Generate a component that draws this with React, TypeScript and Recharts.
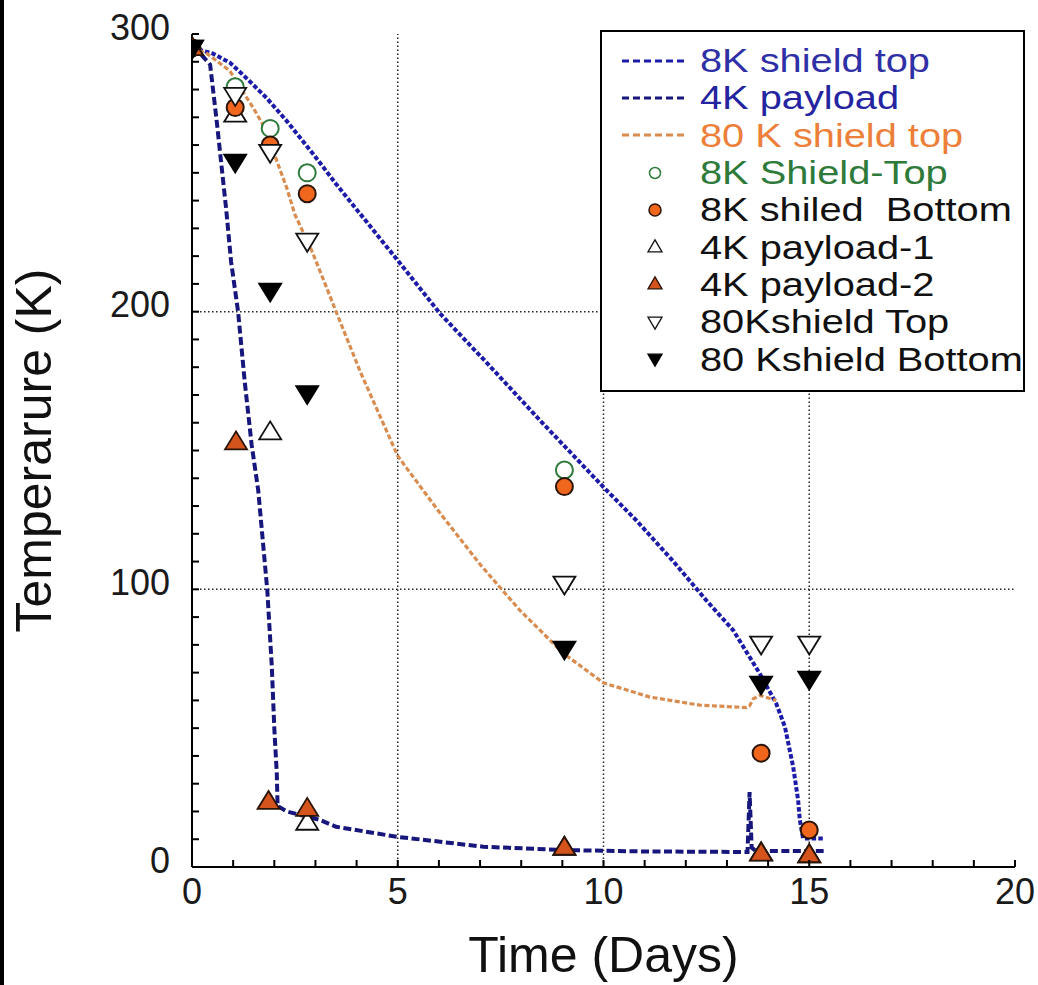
import { ScatterChart, Scatter, XAxis, YAxis, ReferenceLine, Legend } from 'recharts';

type Pt = { t: number; temp: number };
const toPts = (rows: number[][]): Pt[] => rows.map(([t, temp]) => ({ t, temp }));

// model curves (time in days, temperature in K)
const shield8kTopCurve = toPts([
  [0, 295], [0.5, 293], [0.92, 289.7], [1.33, 284], [1.81, 277], [2.3, 268.7], [2.95, 256.7],
  [3.5, 246], [4.97, 219], [6.03, 199.3], [7.2, 181], [8.46, 160.8], [10, 136.8], [10.8, 124.8],
  [11.7, 110], [12.5, 96], [13.15, 85.3], [13.8, 69.6], [14.2, 58.8], [14.41, 50.4], [14.61, 36],
  [14.73, 24], [14.77, 17], [14.85, 10.3], [15.34, 10.3],
]);
const payload4kCurve = toPts([
  [0, 295], [0.2, 293], [0.44, 289], [0.6, 268.7], [0.75, 248], [0.83, 237], [0.95, 218],
  [1.12, 200], [1.28, 175], [1.45, 152], [1.61, 135.6], [1.83, 99.6], [1.94, 72], [2.0, 50],
  [2.06, 33.8], [2.08, 22], [2.3, 20], [3.1, 17], [3.5, 14.5], [4.97, 10.9], [7.08, 7.3],
  [9.02, 6.1], [11, 5.6], [13.5, 5.4], [13.55, 27], [13.6, 7], [13.7, 5.8], [15.35, 5.8],
]);
const shield80kTopCurve = toPts([
  [0, 295], [0.36, 293], [0.92, 286.7], [1.17, 280.7], [1.49, 273.4], [1.81, 265], [2.06, 254.3],
  [2.3, 244.7], [2.5, 235], [2.91, 222], [3.27, 208.7], [3.51, 199.7], [4.1, 178], [5, 148],
  [6, 128], [7, 109], [7.97, 92.4], [9.02, 77], [10.0, 66.3], [11.13, 61.2], [12.34, 58.3],
  [13.48, 57.4], [13.55, 58], [13.64, 60.6], [13.8, 61.8], [14.2, 60],
]);

// measured points
const shield8kTopMeas = toPts([[0, 295], [1.05, 281], [1.9, 266], [2.8, 250], [9.05, 143]]);
const shield8kBottomMeas = toPts([[0, 295], [1.05, 273.5], [1.9, 260], [2.8, 242.5], [9.05, 137], [13.83, 41], [15, 13.3]]);
const payload4k1Meas = toPts([[0, 295], [1.05, 271], [1.9, 156.6], [2.8, 16], [9.05, 7], [13.83, 5], [15, 4.3]]);
const payload4k2Meas = toPts([[0, 295], [1.07, 153], [1.86, 23.5], [2.8, 21], [9.05, 7], [13.83, 4.9], [15, 4.3]]);
const shield80kTopMeas = toPts([[0, 295], [1.05, 278], [1.9, 257.5], [2.8, 225.5], [9.05, 102], [13.83, 80.4], [15, 80.4]]);
const shield80kBottomMeas = toPts([[0, 295], [1.05, 254], [1.9, 207.5], [2.8, 170.6], [9.05, 78.6], [13.83, 66], [15, 67.8]]);

const xTicks = Array.from({ length: 21 }, (_, i) => i);
const yTicks = Array.from({ length: 31 }, (_, i) => i * 10);
const xGrid = [5, 10, 15];
const yGrid = [100, 200];

const FONT = '"Liberation Sans", Arial, Helvetica, sans-serif';
const C_8K = '#1c1ca8';
const C_4K = '#16167c';
const C_80K = '#d98c4f';
const C_GREEN = '#2e7a3a';
const C_ORANGE = '#ef661c';
const C_RED = '#d4541c';
const C_EDGE = '#2a1405';

const triUp = (cx: number, cy: number, h: number, w: number) =>
  `${cx},${cy - h * 0.6} ${cx - w},${cy + h * 0.4} ${cx + w},${cy + h * 0.4}`;
const triDown = (cx: number, cy: number, h: number, w: number) =>
  `${cx},${cy + h * 0.6} ${cx - w},${cy - h * 0.4} ${cx + w},${cy - h * 0.4}`;

const OpenCircle = (p: any) => <circle cx={p.cx} cy={p.cy} r={8.5} fill="#fff" stroke={C_GREEN} strokeWidth={2} />;
const FilledCircle = (p: any) => <circle cx={p.cx} cy={p.cy} r={8.5} fill={C_ORANGE} stroke={C_EDGE} strokeWidth={2} />;
const OpenUp = (p: any) => <polygon points={triUp(p.cx, p.cy, 18, 11)} fill="#fff" stroke="#111" strokeWidth={1.8} />;
const FilledUp = (p: any) => <polygon points={triUp(p.cx, p.cy, 18, 11)} fill={C_RED} stroke={C_EDGE} strokeWidth={1.8} />;
const OpenDown = (p: any) => <polygon points={triDown(p.cx, p.cy, 18, 11)} fill="#fff" stroke="#111" strokeWidth={1.8} />;
const FilledDown = (p: any) => <polygon points={triDown(p.cx, p.cy, 18, 11)} fill="#000" stroke="#000" strokeWidth={1.8} />;
const NoDot = () => <g />;

const XTick = (props: any) => {
  const { x, y, payload, top } = props;
  const v = payload.value;
  return (
    <g>
      <line x1={x} x2={x} y1={y} y2={top ? y + 7 : y - 7} stroke="#000" strokeWidth={2} />
      {!top && v % 5 === 0 && (
        <text x={x} y={y + 24} textAnchor="middle" dominantBaseline="central" fontSize={36} fill="#1a1a1a" fontFamily={FONT}>
          {v}
        </text>
      )}
    </g>
  );
};

const YTick = (props: any) => {
  const { x, y, payload, right } = props;
  const v = payload.value;
  return (
    <g>
      <line x1={x} x2={right ? x - 7 : x + 7} y1={y} y2={y} stroke="#000" strokeWidth={2} />
      {!right && v % 100 === 0 && (
        <text x={x - 22} y={y - 7} textAnchor="end" dominantBaseline="central" fontSize={36} fill="#1a1a1a" fontFamily={FONT}>
          {v}
        </text>
      )}
    </g>
  );
};

const XTitle = (props: any) => {
  const { x, y, width } = props.viewBox;
  return (
    <text x={x + width / 2} y={y + 88} textAnchor="middle" dominantBaseline="central" fontSize={50} fill="#111" fontFamily={FONT}>
      Time (Days)
    </text>
  );
};

const YTitle = (props: any) => {
  const { x, y, height } = props.viewBox;
  const cx = x + 34;
  const cy = y + height / 2;
  return (
    <text x={cx} y={cy} transform={`rotate(-90, ${cx}, ${cy})`} textAnchor="middle" dominantBaseline="central" fontSize={50} fill="#111" fontFamily={FONT}>
      Temperarure (K)
    </text>
  );
};

const legendRows = [
  { label: '8K shield top', text: '#2f2fa6', kind: 'line', color: C_8K },
  { label: '4K payload', text: '#2424a0', kind: 'line', color: C_4K },
  { label: '80 K shield top', text: '#ec7f3a', kind: 'line', color: C_80K },
  { label: '8K Shield-Top', text: C_GREEN, kind: 'openCircle' },
  { label: '8K shiled  Bottom', text: '#111', kind: 'filledCircle' },
  { label: '4K payload-1', text: '#111', kind: 'openUp' },
  { label: '4K payload-2', text: '#111', kind: 'filledUp' },
  { label: '80Kshield Top', text: '#111', kind: 'openDown' },
  { label: '80 Kshield Bottom', text: '#111', kind: 'filledDown' },
];

const LegendSymbol = ({ kind, color }: { kind: string; color?: string }) => {
  const cx = 33;
  const cy = 15;
  let el = null;
  if (kind === 'line') el = <line x1={0} x2={65} y1={cy} y2={cy} stroke={color} strokeWidth={3} strokeDasharray="7 4" />;
  if (kind === 'openCircle') el = <circle cx={cx} cy={cy} r={5.5} fill="#fff" stroke={C_GREEN} strokeWidth={1.5} />;
  if (kind === 'filledCircle') el = <circle cx={cx} cy={cy} r={6} fill={C_ORANGE} stroke={C_EDGE} strokeWidth={1.5} />;
  if (kind === 'openUp') el = <polygon points={triUp(cx, cy, 12, 7)} fill="#fff" stroke="#111" strokeWidth={1.3} />;
  if (kind === 'filledUp') el = <polygon points={triUp(cx, cy, 12, 7)} fill={C_RED} stroke={C_EDGE} strokeWidth={1.3} />;
  if (kind === 'openDown') el = <polygon points={triDown(cx, cy, 12, 7)} fill="#fff" stroke="#111" strokeWidth={1.3} />;
  if (kind === 'filledDown') el = <polygon points={triDown(cx, cy, 12, 7)} fill="#000" stroke="#000" strokeWidth={1.3} />;
  return (
    <svg width={70} height={30} style={{ display: 'block', marginLeft: 20, marginRight: 8, flexShrink: 0 }}>
      {el}
    </svg>
  );
};

const renderLegend = () => (
  <div
    style={{
      width: '100%',
      height: '100%',
      boxSizing: 'border-box',
      border: '2px solid #000',
      background: '#fff',
      paddingTop: 10,
      fontFamily: FONT,
      fontSize: 34,
    }}
  >
    {legendRows.map((r) => (
      <div key={r.label} style={{ display: 'flex', alignItems: 'center', height: 37.3 }}>
        <LegendSymbol kind={r.kind} color={r.color} />
        <span
          style={{
            color: r.text,
            whiteSpace: 'pre',
            lineHeight: '37px',
            display: 'inline-block',
            transform: 'scaleX(1.17)',
            transformOrigin: 'left center',
          }}
        >
          {r.label}
        </span>
      </div>
    ))}
  </div>
);

const axisLine = { stroke: '#000', strokeWidth: 2 };

export default function App() {
  return (
    <div style={{ position: 'absolute', left: 0, top: 0, width: 1038, height: 985, background: '#fff' }}>
      <div style={{ position: 'absolute', left: 0, top: 0, width: 4, height: 985, background: '#000' }} />
      <ScatterChart width={1038} height={985} margin={{ top: 34, right: 23, bottom: 0, left: 0 }}>
        <XAxis
          dataKey="t"
          type="number"
          domain={[0, 20]}
          ticks={xTicks}
          interval={0}
          tickSize={0}
          tickMargin={0}
          height={118}
          axisLine={axisLine}
          tick={(p: any) => <XTick {...p} />}
          label={{ content: XTitle }}
          allowDataOverflow
        />
        <XAxis
          xAxisId="top"
          orientation="top"
          dataKey="t"
          type="number"
          domain={[0, 20]}
          ticks={xTicks}
          interval={0}
          tickSize={0}
          tickMargin={0}
          height={0}
          axisLine={axisLine}
          tick={(p: any) => <XTick {...p} top />}
          allowDataOverflow
        />
        <YAxis
          dataKey="temp"
          type="number"
          domain={[0, 300]}
          ticks={yTicks}
          interval={0}
          tickSize={0}
          tickMargin={0}
          width={192}
          axisLine={axisLine}
          tick={(p: any) => <YTick {...p} />}
          label={{ content: YTitle }}
          allowDataOverflow
        />
        <YAxis
          yAxisId="right"
          orientation="right"
          dataKey="temp"
          type="number"
          domain={[0, 300]}
          ticks={yTicks}
          interval={0}
          tickSize={0}
          tickMargin={0}
          width={0}
          axisLine={axisLine}
          tick={(p: any) => <YTick {...p} right />}
          allowDataOverflow
        />
        {xGrid.map((v) => (
          <ReferenceLine key={`x${v}`} x={v} stroke="#222" strokeWidth={1.5} strokeDasharray="1.5 2.5" />
        ))}
        {yGrid.map((v) => (
          <ReferenceLine key={`y${v}`} y={v} stroke="#222" strokeWidth={1.5} strokeDasharray="1.5 2.5" />
        ))}
        <Scatter name="8K shield top" data={shield8kTopCurve} shape={NoDot} line={{ stroke: C_8K, strokeWidth: 4, strokeDasharray: '4.5 2.2' }} stroke={C_8K} isAnimationActive={false} />
        <Scatter name="4K payload" data={payload4kCurve} shape={NoDot} line={{ stroke: C_4K, strokeWidth: 4, strokeDasharray: '8 3.5' }} stroke={C_4K} isAnimationActive={false} />
        <Scatter name="80 K shield top" data={shield80kTopCurve} shape={NoDot} line={{ stroke: C_80K, strokeWidth: 3.2, strokeDasharray: '5 2.5' }} stroke={C_80K} isAnimationActive={false} />
        <Scatter name="8K Shield-Top" data={shield8kTopMeas} shape={OpenCircle} isAnimationActive={false} />
        <Scatter name="4K payload-1" data={payload4k1Meas} shape={OpenUp} isAnimationActive={false} />
        <Scatter name="8K shiled  Bottom" data={shield8kBottomMeas} shape={FilledCircle} isAnimationActive={false} />
        <Scatter name="80Kshield Top" data={shield80kTopMeas} shape={OpenDown} isAnimationActive={false} />
        <Scatter name="4K payload-2" data={payload4k2Meas} shape={FilledUp} isAnimationActive={false} />
        <Scatter name="80 Kshield Bottom" data={shield80kBottomMeas} shape={FilledDown} isAnimationActive={false} />
        <Legend
          layout="vertical"
          align="center"
          verticalAlign="middle"
          content={renderLegend}
          wrapperStyle={{ left: 600, top: 30, width: 425, height: 362 }}
        />
      </ScatterChart>
    </div>
  );
}
